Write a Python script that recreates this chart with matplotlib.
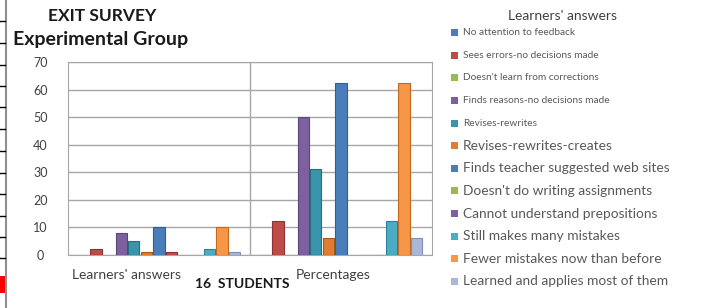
import matplotlib.pyplot as plt
import numpy as np
from matplotlib.patches import Rectangle
from matplotlib.lines import Line2D
from matplotlib.transforms import ScaledTranslation

plt.rcParams['font.family'] = ['Lato', 'DejaVu Sans']

categories = ["Learners' answers", "Percentages"]
series_names = [
    "No attention to feedback",
    "Sees errors-no decisions made",
    "Doesn't learn from corrections",
    "Finds reasons-no decisions made",
    "Revises-rewrites",
    "Revises-rewrites-creates",
    "Finds teacher suggested web sites",
    None,  # hidden series, no legend entry
    "Doesn't do writing assignments",
    "Cannot understand prepositions",
    "Still makes many mistakes",
    "Fewer mistakes now than before",
    "Learned and applies most of them",
]
learners = [np.nan, 2, np.nan, 8, 5, 1, 10, 1, np.nan, np.nan, 2, 10, 1]
percentages = [0, 12.5, 0, 50, 31.25, 6.25, 62.5, np.nan, 0, 0, 12.5, 62.5, 6.25]
yticks = [0, 10, 20, 30, 40, 50, 60, 70]

colors = ['#4A7EBB', '#BE4B48', '#98B954', '#7D60A0', '#3A94AC', '#E07D30',
          '#4A7EBB', '#C0504D', '#98B954', '#7D60A0', '#4BACC6', '#F79646', '#A9B8D8']
edges = ['#345C8C', '#8C3331', '#6E8A3A', '#5A4478', '#266E80', '#A85A1E',
         '#345C8C', '#8C3331', '#6E8A3A', '#5A4478', '#2F8099', '#C06A20', '#7F90B8']

W, H = 714, 308
fig = plt.figure(figsize=(W / 100, H / 100), dpi=100)
ax = fig.add_axes([68 / W, 53 / H, 364 / W, 193 / H])

n = len(series_names)
slot = 0.9 / n
x = np.arange(len(categories))
for i in range(n):
    vals = [learners[i], percentages[i]]
    ax.bar(x - 0.45 + slot * (i + 0.5), vals, width=slot * 0.9,
           color=colors[i], edgecolor=edges[i], linewidth=0.8, zorder=3)

ax.set_xlim(-0.5, 1.5)
ax.set_ylim(0, 70)
ax.set_yticks(yticks)
ax.yaxis.grid(True, color='#A6A6A6', linewidth=1, zorder=0)
ax.axvline(0.5, color='#A6A6A6', linewidth=1, zorder=1)
for s in ax.spines.values():
    s.set_color('#A6A6A6')
ax.tick_params(length=0, labelsize=10, colors='#404040', pad=10)
ax.tick_params(axis='y', pad=20, labelsize=9)
for lab in ax.get_yticklabels():
    lab.set_horizontalalignment('center')
ax.set_xticks(x)
ax.set_xticklabels(categories)
shifts = [-33, -8]
for lab, dx in zip(ax.get_xticklabels(), shifts):
    lab.set_transform(lab.get_transform() + ScaledTranslation(dx / 100, 0, fig.dpi_scale_trans))

# titles
fig.text(102 / W, 1 - 16 / H, "EXIT SURVEY", ha='center', va='center',
         fontsize=12.5, fontweight='bold', color='#1A1A1A')
fig.text(13 / W, 1 - 40 / H, "Experimental Group", ha='left', va='center',
         fontsize=14, fontweight='bold', color='#1A1A1A')
fig.text(242 / W, 1 - 284 / H, "16  STUDENTS", ha='center', va='center',
         fontsize=10, fontweight='bold', color='#1A1A1A')

# legend
fig.text(563 / W, 1 - 16 / H, "Learners' answers", ha='center', va='center',
         fontsize=10, color='#404040')
k = 0
for i, name in enumerate(series_names):
    if name is None:
        continue
    yc = 32.7 + k * 22.6
    fig.patches.append(Rectangle((451 / W, 1 - (yc + 3.5) / H), 7 / W, 7 / H,
                                 transform=fig.transFigure, facecolor=colors[i],
                                 edgecolor='none'))
    fig.text(463 / W, 1 - yc / H, name, ha='left', va='center',
             fontsize=7.3 if k < 5 else 9.9, color='#595959')
    k += 1

# spreadsheet cell edges at the left border
fig.lines.append(Line2D([6 / W, 6 / W], [0, 1], transform=fig.transFigure,
                        color='#909090', linewidth=1.5))
for yy in [21, 43, 65, 86, 107, 129, 151, 173, 194, 216, 237, 258]:
    fig.lines.append(Line2D([0, 5 / W], [1 - yy / H, 1 - yy / H],
                            transform=fig.transFigure, color='black', linewidth=1))
fig.patches.append(Rectangle((0, 1 - 293 / H), 5.5 / W, 17 / H,
                             transform=fig.transFigure, facecolor='#FF0000',
                             edgecolor='none'))

fig.savefig('out.png', dpi=100)
